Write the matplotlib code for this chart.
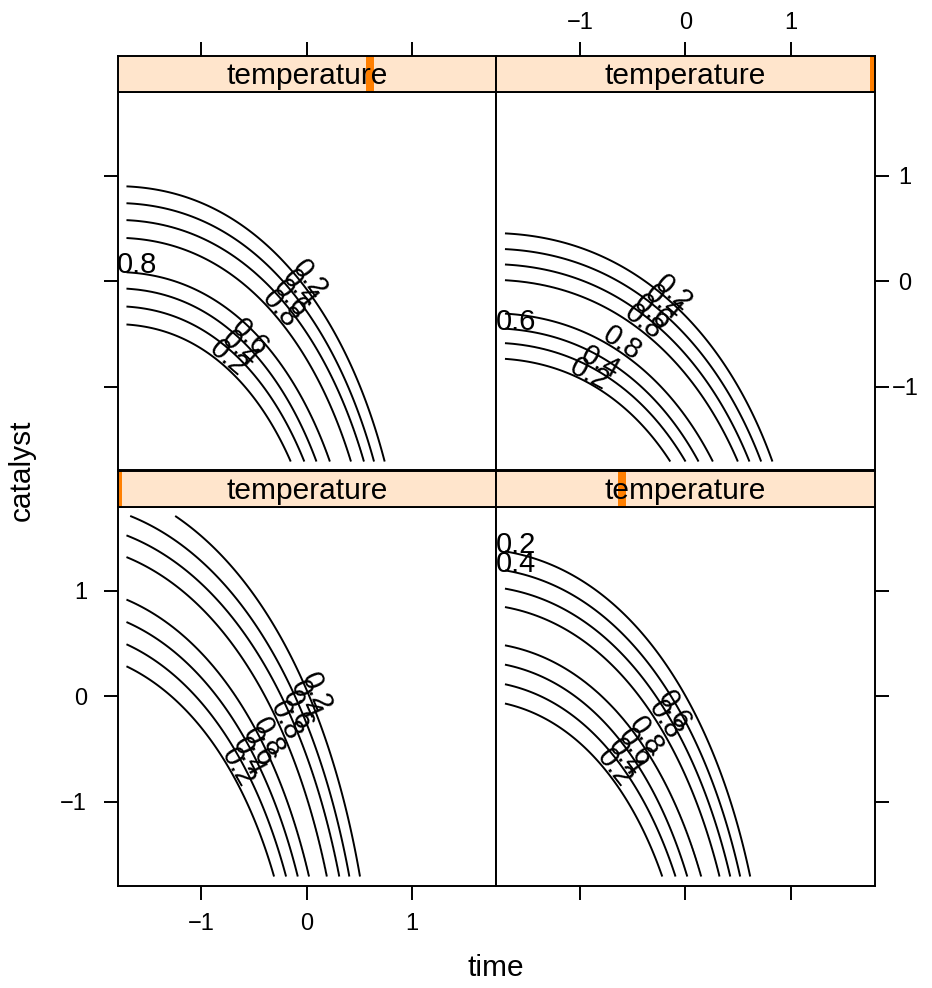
import numpy as np
import matplotlib
matplotlib.use("Agg")
import matplotlib.pyplot as plt
from matplotlib.patches import Rectangle

plt.rcParams['font.family'] = ['Liberation Sans', 'DejaVu Sans']
plt.rcParams['axes.unicode_minus'] = True

# ---------------- data ----------------
# panels in lattice order: lowest temperature first (BL, BR, TL, TR)
temperature = [-1.5, -0.5, 0.5, 1.5]
contour_levels = [0.2, 0.4, 0.6, 0.8]
# value of each contour line, from the lower-left line to the upper-right one
line_levels = [0.2, 0.4, 0.6, 0.8, 0.8, 0.6, 0.4, 0.2]

# where each contour line enters the grid (left or top edge)
entry_time = [
    [-1.71, -1.71, -1.71, -1.71, -1.71, -1.71, -1.675, -1.248],
    [-1.71, -1.71, -1.71, -1.71, -1.71, -1.71, -1.71, -1.71],
    [-1.71, -1.71, -1.71, -1.71, -1.71, -1.71, -1.71, -1.71],
    [-1.71, -1.71, -1.71, -1.71, -1.71, -1.71, -1.71, -1.71],
]
entry_catalyst = [
    [0.284, 0.493, 0.704, 0.917, 1.32, 1.526, 1.71, 1.71],
    [-0.069, 0.114, 0.30, 0.483, 0.846, 1.021, 1.194, 1.374],
    [-0.41, -0.24, -0.07, 0.085, 0.41, 0.58, 0.74, 0.90],
    [-0.736, -0.587, -0.45, -0.307, 0.01, 0.159, 0.305, 0.454],
]
# time at which each contour line leaves through the bottom edge
exit_time = [
    [-0.31, -0.196, -0.085, 0.022, 0.19, 0.309, 0.404, 0.505],
    [-0.218, -0.092, 0.019, 0.152, 0.325, 0.427, 0.521, 0.616],
    [-0.152, -0.023, 0.092, 0.22, 0.419, 0.543, 0.638, 0.739],
    [-0.142, 0.003, 0.126, 0.262, 0.499, 0.609, 0.72, 0.827],
]
# curvature centre of the contour arcs in each panel
centre_time = [-2.5, -2.1, -1.85, -1.9]
centre_catalyst = [-4.0, -4.0, -4.0, -4.0]
arc_power = 2.2
peak_value = 1.0
# contour lines whose label lattice drew flat at the left end
flat_label_lines = [[], [6, 7], [3], [2]]

tick_values = [-1, 0, 1]
grid_lim = 1.71
axis_lim = 1.795

# ---------------- surface ----------------
def surface(k, T, C):
    xc, yc, p = centre_time[k], centre_catalyst[k], arc_power
    X1 = np.array(entry_time[k]) - xc
    Y1 = np.array(entry_catalyst[k]) - yc
    X2 = np.array(exit_time[k]) - xc
    Y2 = np.full_like(X2, -grid_lim - yc)
    a11, a12, a21, a22 = X1 ** p, Y1 ** p, X2 ** p, Y2 ** p
    det = a11 * a22 - a12 * a21
    u = (a22 - a12) / det
    v = (a11 - a21) / det
    Xg = (T - xc) ** p
    Yg = (C - yc) ** p
    L = np.log(u[:, None, None] * Xg + v[:, None, None] * Yg)
    nout = (L > 0).sum(axis=0)
    j = np.clip(nout, 1, len(line_levels) - 1)
    L0 = np.take_along_axis(L, (j - 1)[None], 0)[0]
    L1 = np.take_along_axis(L, j[None], 0)[0]
    s = (j - 1) + L0 / (L0 - L1)
    half = len(line_levels) // 2
    ks = [-1] + list(range(half)) + [half - 0.5] + list(range(half, len(line_levels))) + [len(line_levels)]
    kz = [0.0] + line_levels[:half] + [peak_value] + line_levels[half:] + [0.0]
    return np.interp(s, ks, kz)


g = np.linspace(-grid_lim, grid_lim, 341)
T, C = np.meshgrid(g, g)

W, H, DPI = 932, 988, 100
fig = plt.figure(figsize=(W / DPI, H / DPI), dpi=DPI)

px_w = 378.5
col_x = [117.5, 496.0]
panel_top = {1: 92.0, 0: 507.0}   # row 1 = top row
strip_h = 35.5

LW = 1.4
FS_LAB = 21
FS_STRIP = 21.5
FS_TICK = 17

tmin, tmax = min(temperature), max(temperature)

def fig_rect(x, y, w, h):
    return [x / W, 1 - (y + h) / H, w / W, h / H]

for k in range(4):
    col = k % 2
    row = k // 2
    x0 = col_x[col]
    y0 = panel_top[row]
    ax = fig.add_axes(fig_rect(x0, y0, px_w, px_w))
    ax.set_xlim(-axis_lim, axis_lim)
    ax.set_ylim(-axis_lim, axis_lim)
    for sp in ax.spines.values():
        sp.set_linewidth(LW)
    Z = surface(k, T, C)
    cs = ax.contour(T, C, Z, levels=contour_levels, colors='black', linewidths=LW)
    # lattice-style labels
    for li, segs in enumerate(cs.allsegs):
        segs = [s for s in segs if len(s) > 2]
        segs = sorted(segs, key=lambda s: np.max(s[:, 0] + s[:, 1]))
        for gi, seg in enumerate(segs):
            line_idx = li if gi == 0 else len(line_levels) - 1 - li
            xx, yy = seg[:, 0], seg[:, 1]
            lab = f"{contour_levels[li]:g}"
            if line_idx in flat_label_lines[k]:
                t = int(np.argmin(np.abs(xx - (-1.61))))
                ax.text(xx[t], yy[t], lab, ha='center', va='baseline',
                        fontsize=FS_LAB, rotation=0)
            else:
                depth = np.minimum(np.minimum(xx + grid_lim, grid_lim - xx) / (2 * grid_lim),
                                   np.minimum(yy + grid_lim, grid_lim - yy) / (2 * grid_lim))
                t = min(int(np.argmax(depth)), len(xx) - 2)
                dx = xx[t + 1] - xx[t]
                dy = yy[t + 1] - yy[t]
                ang = np.degrees(np.arctan(dy / dx)) if dx != 0 else -90.0
                ax.text(xx[t], yy[t], lab, ha='center', va='baseline',
                        fontsize=FS_LAB, rotation=ang, rotation_mode='anchor')
    ax.set_xticks(tick_values)
    ax.set_yticks(tick_values)
    ax.tick_params(direction='out', length=10, width=LW, labelsize=FS_TICK)
    # which sides carry ticks/labels (lattice alternating)
    if row == 0:
        ax.tick_params(axis='x', bottom=True, top=False, labelbottom=(col == 0), labeltop=False, pad=10)
    else:
        ax.tick_params(axis='x', bottom=False, top=False, labelbottom=False, labeltop=False)
    if col == 0:
        ax.tick_params(axis='y', left=True, right=False, labelleft=(row == 0), labelright=False, pad=12)
    else:
        ax.tick_params(axis='y', left=False, right=True, labelleft=False, labelright=(row == 1), pad=12)
    if row == 1 and col == 1:
        for lbl in ax.get_yticklabels():
            lbl.set_horizontalalignment('center')

    # strip
    sax = fig.add_axes(fig_rect(x0, y0 - strip_h, px_w, strip_h))
    sax.set_facecolor('#FFE5CC')
    sax.set_xlim(-axis_lim, axis_lim)
    sax.set_ylim(0, 1)
    for sp in sax.spines.values():
        sp.set_linewidth(LW)
    f = (temperature[k] - tmin) / (tmax - tmin)
    sax.add_patch(Rectangle((f - 0.011, 0), 0.022, 1, transform=sax.transAxes,
                            facecolor='#FF7F00', edgecolor='none', zorder=1))
    sax.text(0.5, 0.45, 'temperature', transform=sax.transAxes, ha='center', va='center',
             fontsize=FS_STRIP, zorder=3)
    sax.set_yticks([])
    if row == 1:
        sax.set_xticks(tick_values)
        sax.tick_params(axis='x', direction='out', length=10, width=LW, labelsize=FS_TICK,
                        bottom=False, top=True, labelbottom=False, labeltop=(col == 1), pad=6.5)
    else:
        sax.set_xticks([])

fig.text(496 / W, 1 - 968 / H, 'time', ha='center', va='center', fontsize=FS_STRIP)
fig.text(22 / W, 1 - 470 / H, 'catalyst', ha='center', va='center', rotation=90, fontsize=FS_STRIP)

fig.savefig('out.png', dpi=DPI)
